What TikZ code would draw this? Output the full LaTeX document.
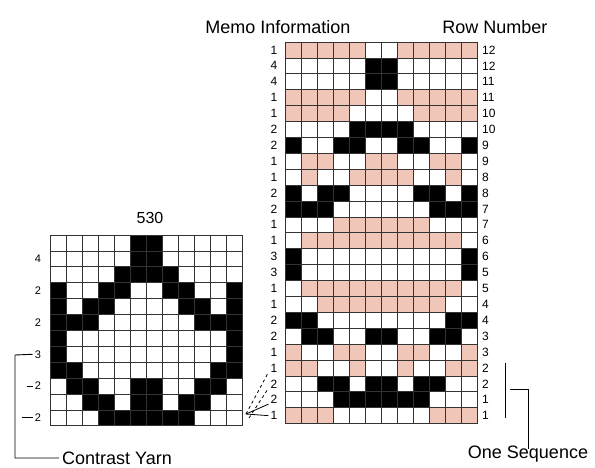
\documentclass[tikz,border=0pt]{standalone}
\usepackage{fontspec}
\setmainfont{Liberation Sans}
\definecolor{pinkc}{RGB}{240,198,184}
\begin{document}
\begin{tikzpicture}[x=1pt,y=-1pt,
  gridline/.style={draw=black!80,line width=0.7pt},
  cp/.style={fill=pinkc}, cw/.style={fill=white}, cb/.style={fill=black},
  memo/.style={font=\fontsize{12}{12}\selectfont,inner sep=0pt},
  small/.style={font=\fontsize{11}{11}\selectfont,inner sep=0pt},
  title/.style={font=\fontsize{18}{18}\selectfont,inner sep=0pt},
  brack/.style={draw=black,line width=0.9pt},
  fanline/.style={draw=black,line width=0.8pt}]
\useasboundingbox[fill=white] (0,0) rectangle (595,467);

% right grid (24 rows x 12 columns)
\foreach \row [count=\r] in {
 {p,p,p,p,p,w,w,p,p,p,p,p},
 {w,w,w,w,w,b,b,w,w,w,w,w},
 {w,w,w,w,w,b,b,w,w,w,w,w},
 {p,p,p,p,p,w,w,p,p,p,p,p},
 {p,p,p,p,w,w,w,w,p,p,p,p},
 {w,w,w,w,b,b,b,b,w,w,w,w},
 {b,w,w,b,b,w,w,b,b,w,w,b},
 {w,p,p,w,w,p,p,w,w,p,p,w},
 {w,p,w,w,p,p,p,p,w,w,p,w},
 {b,w,b,b,w,w,w,w,b,b,w,b},
 {b,b,b,w,w,w,w,w,w,b,b,b},
 {w,w,w,p,p,p,p,p,p,w,w,w},
 {w,p,p,p,p,p,p,p,p,p,p,w},
 {b,w,w,w,w,w,w,w,w,w,w,b},
 {b,w,w,w,w,w,w,w,w,w,w,b},
 {w,p,p,p,p,p,p,p,p,p,p,w},
 {w,w,p,p,p,p,p,p,p,p,w,w},
 {b,b,w,w,w,w,w,w,w,w,b,b},
 {w,b,b,w,w,b,b,w,w,b,b,w},
 {p,w,w,p,p,w,w,p,p,w,w,p},
 {p,p,w,w,p,w,w,p,w,w,p,p},
 {w,w,b,b,w,b,b,w,b,b,w,w},
 {w,w,w,b,b,b,b,b,b,w,w,w},
 {p,p,p,w,w,w,w,w,w,p,p,p}} {
  \foreach \c [count=\k] in \row {
    \path[c\c,gridline] ({285+16*(\k-1)},{42+15.9*(\r-1)}) rectangle ++(16,15.9);
  }
}

% left grid (12 x 12)
\foreach \row [count=\r] in {
 {w,w,w,w,w,b,b,w,w,w,w,w},
 {w,w,w,w,w,b,b,w,w,w,w,w},
 {w,w,w,w,b,b,b,b,w,w,w,w},
 {b,w,w,b,b,w,w,b,b,w,w,b},
 {b,w,b,b,w,w,w,w,b,b,w,b},
 {b,b,b,w,w,w,w,w,w,b,b,b},
 {b,w,w,w,w,w,w,w,w,w,w,b},
 {b,w,w,w,w,w,w,w,w,w,w,b},
 {b,b,w,w,w,w,w,w,w,w,b,b},
 {w,b,b,w,w,b,b,w,w,b,b,w},
 {w,w,b,b,w,b,b,w,b,b,w,w},
 {w,w,w,b,b,b,b,b,b,w,w,w}} {
  \foreach \c [count=\k] in \row {
    \path[c\c,gridline] ({50+16*(\k-1)},{235+15.9*(\r-1)}) rectangle ++(16,15.9);
  }
}

% memo information and row numbers
\foreach \m [count=\r] in {1,4,4,1,1,2,2,1,1,2,2,1,1,3,3,1,1,2,2,1,1,2,2,1}
  \node[memo] (m\r) at (274,{42+15.9*(\r-0.5)}) {\m};
\foreach \n [count=\r] in {12,12,11,11,10,10,9,9,8,8,7,7,6,6,5,5,4,4,3,3,2,2,1,1}
  \node[memo,anchor=west] (n\r) at (482,{42+15.9*(\r-0.5)}) {\n};

% left grid labels
\foreach \v/\rr [count=\i] in {4/2,2/4,2/6,3/8,2/10,2/12}
  \node[small] (L\i) at (38,{235+15.9*(\rr-0.5)}) {\v};

% titles
\node[title,anchor=base] (memoT) at (278,33) {Memo Information};
\node[title,anchor=base] (rowT) at (495,33) {Row Number};
\node[title,anchor=base,font=\fontsize{16}{16}\selectfont] (num) at (150,223) {530};
\node[title,anchor=west] (cyT) at (62,458) {Contrast Yarn};
\node[title,anchor=north] (osT) at (528,446) {One Sequence};

% contrast yarn bracket
\coordinate (cyTop) at (15,355);
\coordinate (cyBot) at (15,458);
\draw[brack] ([xshift=-2]L4.west) -- (cyTop) -- (cyBot) -- ([xshift=-3]cyT.west);
\draw[brack] ([xshift=-2]L5.west) -- ++(-6,0);
\draw[brack] ([xshift=-2]L6.west) -- ++(-11,0);

% one sequence bracket
\coordinate (osTop) at (505,363);
\coordinate (osBot) at (505,418);
\coordinate (osMid) at (510,389);
\draw[brack] (osTop) -- (osBot);
\draw[brack] (osMid) -- (osMid -| osT.north) -- ([yshift=-3]osT.north);

% fan of connectors
\coordinate (fan) at (246,414);
\draw[fanline,dashed] (fan) -- ([xshift=-2]m21.south west);
\draw[fanline,dashed] ([xshift=3,yshift=-4]fan) -- ([xshift=-2]m22.south west);
\draw[fanline] (fan) -- ([xshift=-2]m23.south west);
\draw[fanline] (fan) -- ([xshift=-2]m24.west);
\end{tikzpicture}
\end{document}
